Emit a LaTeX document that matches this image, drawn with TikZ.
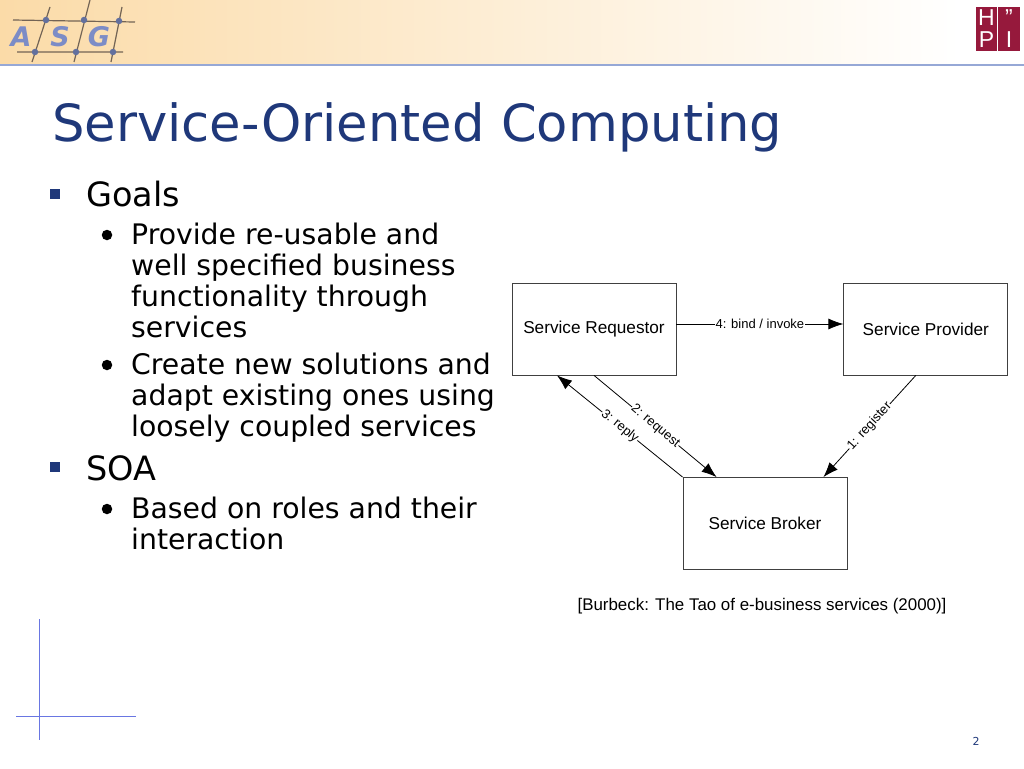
\documentclass[tikz,border=0pt]{standalone}
\usepackage{fontspec}
\setmainfont{DejaVu Sans}
\newfontfamily\labelfont{Liberation Sans}
\usetikzlibrary{arrows.meta,positioning,calc}
\definecolor{TitleBlue}{RGB}{31,56,122}
\definecolor{HeaderOrange}{RGB}{251,219,168}
\definecolor{RuleBlue}{RGB}{150,168,214}
\definecolor{LogoBlue}{RGB}{124,140,198}
\definecolor{LogoLine}{RGB}{115,100,85}
\definecolor{HpiRed}{RGB}{150,25,60}
\tikzset{
  rolebox/.style={draw=black!75,line width=0.8pt,fill=white,minimum width=164pt,
    minimum height=92pt,inner sep=0pt,font=\labelfont\fontsize{17.2}{19}\selectfont},
  rolearrow/.style={-{Latex[length=15pt,width=11pt]},line width=0.8pt,draw=black},
  rolelabel/.style={fill=white,inner sep=0.5pt,font=\labelfont\fontsize{13}{15}\selectfont},
  bigbullet/.style={fill=TitleBlue,inner sep=0pt,minimum size=10pt},
  smallbullet/.style={circle,fill=black,inner sep=0pt,minimum size=10.5pt},
  toptext/.style={anchor=west,inner sep=0pt,font=\fontsize{33.5}{38}\selectfont},
  subtext/.style={anchor=north west,inner sep=0pt,align=left,
    font=\fontsize{28.3}{31}\selectfont},
  crossline/.style={draw=RuleBlue!70!blue,line width=0.8pt},
  logoletter/.style={text=LogoBlue,font=\bfseries\itshape\fontsize{27}{27}\selectfont},
  ball/.style={circle,fill=LogoBlue!80!black,inner sep=0pt,minimum size=6.5pt},
  hpicell/.style={fill=HpiRed,text=white,minimum size=21.5pt,inner sep=0pt,
    font=\labelfont\fontsize{23}{23}\selectfont},
}
\begin{document}
\begin{tikzpicture}[x=1pt,y=-1pt]
  \useasboundingbox (0,0) rectangle (1024,768);
  % header band
  \shade[left color=HeaderOrange,right color=white] (0,0) rectangle (960,65);
  \draw[RuleBlue,line width=1.5pt] (0,65) -- (1024,65);
  % logo
  \draw[LogoLine,line width=1.2pt] (13,20) -- (135,22) (17,52) -- (123,52)
    (50,7) -- (32,62) (90,0) -- (74,62) (122,7) -- (111,62);
  \node[ball] (b1) at (46,20) {};
  \node[ball] (b2) at (84,20) {};
  \node[ball] (b3) at (119,21) {};
  \node[ball] (b4) at (35,52) {};
  \node[ball] (b5) at (76,52) {};
  \node[ball] (b6) at (113,52) {};
  \node[logoletter] (la) at (21,37) {A};
  \node[logoletter] (ls) at (60,37) {S};
  \node[logoletter] (lg) at (99,37) {G};
  % hpi
  \node[hpicell] (h) at (986.5,18) {H};
  \node[hpicell] (q) at (1009,18) {”};
  \node[hpicell] (p) at (986.5,40) {P};
  \node[hpicell] (i) at (1009,40) {I};
  % title and text
  \node[anchor=west,inner sep=0pt,text=TitleBlue,font=\fontsize{51.2}{60}\selectfont] (title) at (52,127) {Service-Oriented Computing};
  \node[bigbullet] (b-goals) at (55,194) {};
  \node[toptext] (goals) at (86,194) {Goals};
  \node[smallbullet] (b-prov) at (107,235) {};
  \node[subtext] (prov) at (131,223) {Provide re-usable and\\well specified business\\functionality through\\services};
  \node[smallbullet] (b-new) at (107,365) {};
  \node[subtext] (new) at (131,353) {Create new solutions and\\adapt existing ones using\\loosely coupled services};
  \node[bigbullet] (b-soa) at (55,467) {};
  \node[toptext] (soa) at (86,468) {SOA};
  \node[smallbullet] (b-based) at (107,509) {};
  \node[subtext] (based) at (131,497) {Based on roles and their\\interaction};
  % roles
  \node[rolebox] (requestor) at (594,329) {Service Requestor};
  \node[rolebox,right=167pt of requestor] (provider) {Service Provider};
  \node[rolebox] (broker) at (765,523.5) {Service Broker};
  \draw[rolearrow] ($(requestor.east)+(0,-5)$) -- node[rolelabel] {4: bind / invoke} ($(provider.west)+(0,-5)$);
  \draw[rolearrow] (requestor.south) -- node[rolelabel,sloped] {2: request} ($(broker.north west)+(34,0)$);
  \draw[rolearrow] (broker.north west) -- node[rolelabel,sloped] {3: reply} ($(requestor.south)+(-37,0)$);
  \draw[rolearrow] ($(provider.south)+(-10,0)$) -- node[rolelabel,sloped] {1: register} ($(broker.north east)+(-24,0)$);
  \node[font=\labelfont\fontsize{16.9}{18}\selectfont,inner sep=0pt] (cite) at (762,606) {[Burbeck: The Tao of e-business services (2000)]};
  % cross and page number
  \coordinate (c-top) at (39,619);
  \coordinate (c-bot) at (39,740);
  \coordinate (c-left) at (16,716);
  \coordinate (c-right) at (136,716);
  \draw[crossline] (c-top) -- (c-bot);
  \draw[crossline] (c-left) -- (c-right);
  \node[font=\fontsize{11}{13}\selectfont,text=TitleBlue,inner sep=0pt] (page) at (976,741) {2};
\end{tikzpicture}
\end{document}
